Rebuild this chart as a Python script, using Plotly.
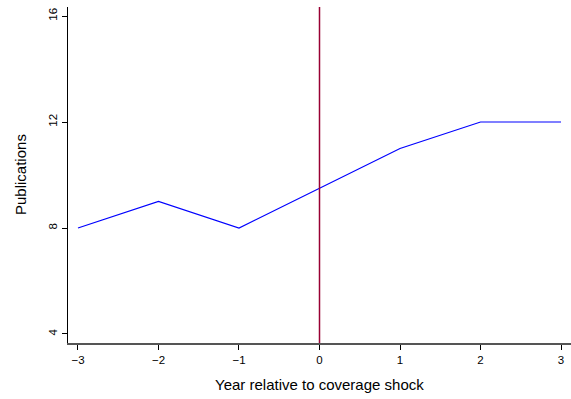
import plotly.graph_objects as go

years = [-3, -2, -1, 0, 1, 2, 3]
publications = [8, 9, 8, 9.5, 11, 12, 12]
x_ticks = [-3, -2, -1, 0, 1, 2, 3]
x_tick_labels = ["\u22123", "\u22122", "\u22121", "0", "1", "2", "3"]
y_ticks = [4, 8, 12, 16]
shock_year = 0

fig = go.Figure()
fig.add_trace(go.Scatter(x=years, y=publications, mode="lines",
                         line=dict(color="#0000ff", width=1.2), showlegend=False))
fig.add_trace(go.Scatter(x=[shock_year, shock_year], y=[3.66, 16.34], mode="lines",
                         line=dict(color="#990033", width=1.5), showlegend=False))

fig.update_layout(
    width=571, height=399,
    margin=dict(l=68, r=0, t=7, b=56),
    paper_bgcolor="white", plot_bgcolor="white",
    font=dict(family="Liberation Sans, Arial, sans-serif", size=11.5, color="black"),
    xaxis=dict(range=[-3.124, 3.124], tickvals=x_ticks, ticktext=x_tick_labels,
               showgrid=False, zeroline=False, showline=True, linecolor="#555555", linewidth=1.5,
               ticks="outside", ticklen=5, tickcolor="black", automargin=False),
    yaxis=dict(range=[3.66, 16.34], tickvals=y_ticks, tickangle=-90,
               showgrid=False, zeroline=False, showline=True, linecolor="black", linewidth=1,
               ticks="outside", ticklen=5, tickcolor="black", automargin=False),
    annotations=[
        dict(text="Year relative to coverage shock", xref="paper", yref="paper",
             x=0.5, y=-41/336, xanchor="center", yanchor="middle", showarrow=False,
             font=dict(size=15)),
        dict(text="Publications", xref="paper", yref="paper",
             x=-48/503, y=0.5, xanchor="center", yanchor="middle", showarrow=False,
             textangle=-90, font=dict(size=15)),
    ],
)

fig.write_html("out.html", config={"displayModeBar": False},
               post_script="document.body.style.margin='0';document.body.style.overflow='hidden';")
